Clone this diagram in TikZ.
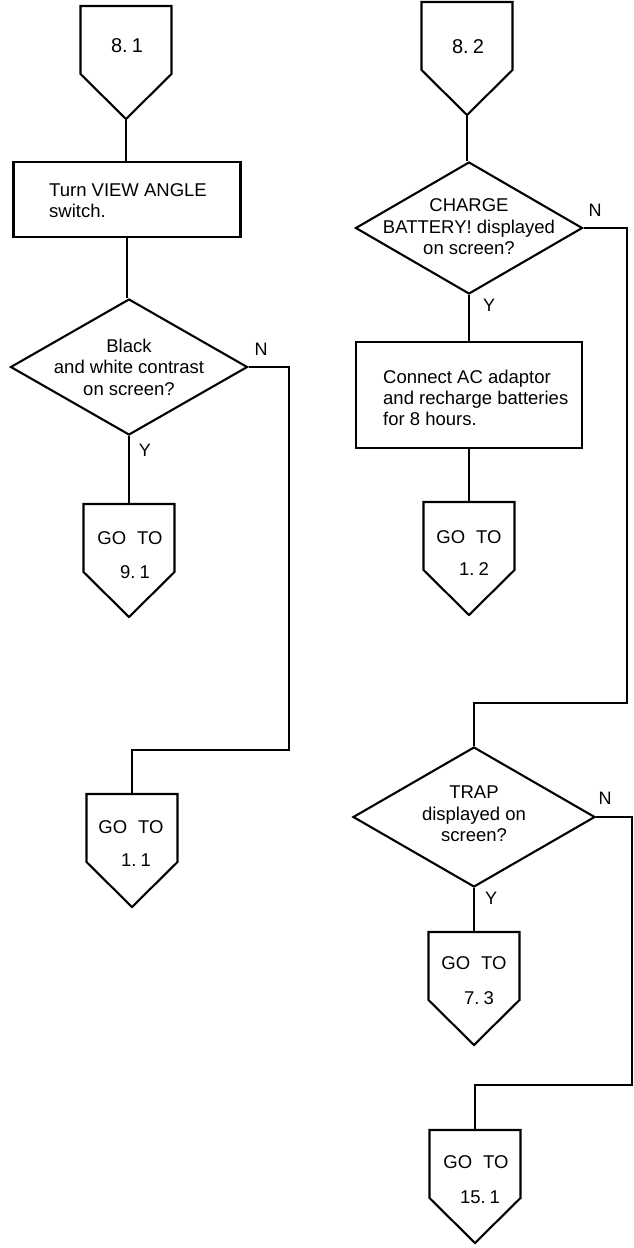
\documentclass[tikz,border=0pt]{standalone}
\usepackage{fontspec}
\setmainfont{Liberation Sans}
\usetikzlibrary{shapes.geometric}
\tikzset{
  x=1pt, y=-1pt,
  ln/.style={line width=1.9pt, line join=miter},
  dia/.style={shape=diamond, draw, line width=2.1pt, inner sep=0pt},
  box/.style={shape=rectangle, draw, line width=2.1pt, inner sep=0pt},
  txt/.style={font=\fontsize{18.5}{21.5}\selectfont, align=center, inner sep=0pt},
  ltxt/.style={font=\fontsize{18.5}{21}\selectfont, align=left, anchor=west, inner sep=0pt},
  gtxt/.style={font=\fontsize{18.5}{20}\selectfont, inner sep=0pt},
  htxt/.style={font=\fontsize{20}{22}\selectfont, inner sep=0pt},
  yn/.style={font=\fontsize{18}{20}\selectfont, inner sep=0pt},
  goto/.pic={
    \draw[line width=2.1pt, line join=miter] (-45.5,0) -- (45.5,0) -- (45.5,68) -- (0,113) -- (-45.5,68) -- cycle;
    \coordinate (-top) at (0,0);
    \coordinate (-tip) at (0,113);
  }
}
\newcommand{\gap}{\hspace{11pt}}
\newcommand{\dsp}{\hspace{4pt}}
\begin{document}
\begin{tikzpicture}
\useasboundingbox (0,0) rectangle (634,1248);
\fill[white] (0,0) rectangle (634,1248);

% ---------- left column ----------
\pic (p81) at (126,6) {goto};
\node[htxt] (t81) at (127,46) {8.\dsp1};

\node[box, minimum width=227pt, minimum height=75pt] (b1) at (127,199.5) {};
\node[ltxt] (tb1) at (49,201) {Turn VIEW ANGLE\\switch.};

\node[dia, minimum width=237pt, minimum height=136pt] (d1) at (129,367) {};
\node[txt] (td1) at (129,367) {Black\\and white contrast\\on screen?};
\node[yn] (n1) at (261,349) {N};
\node[yn] (y1) at (145,450) {Y};

\pic (g91) at (129,504) {goto};
\node[gtxt] (tg91a) at (130,538) {GO\gap TO};
\node[gtxt] (tg91b) at (135,572) {9.\dsp1};

\pic (g11) at (132,794) {goto};
\node[gtxt] (tg11a) at (131,827) {GO\gap TO};
\node[gtxt] (tg11b) at (136,860) {1.\dsp1};

\coordinate (c1) at (289,750);

\draw[ln] (p81-tip) -- (p81-tip |- b1.north);
\draw[ln] (b1.south) -- (b1.south |- d1.north);
\draw[ln] (d1.south) -- (d1.south |- g91-top);
\draw[ln] (d1.east) -| (c1) -| (g11-top);

% ---------- right column ----------
\pic (p82) at (467,2) {goto};
\node[htxt] (t82) at (468,47) {8.\dsp2};

\node[dia, minimum width=227pt, minimum height=132pt] (d2) at (469,228) {};
\node[txt] (td2) at (469,227) {CHARGE\\BATTERY! displayed\\on screen?};
\node[yn] (n2) at (595,210) {N};
\node[yn] (y2) at (489,305) {Y};

\node[box, minimum width=226pt, minimum height=106pt] (b2) at (469,395) {};
\node[ltxt] (tb2) at (383,398) {Connect AC adaptor\\and recharge batteries\\for 8 hours.};

\pic (g12) at (469,502) {goto};
\node[gtxt] (tg12a) at (469,537) {GO\gap TO};
\node[gtxt] (tg12b) at (474,569) {1.\dsp2};

\coordinate (c2) at (627,703);

\node[dia, minimum width=242pt, minimum height=140pt] (d3) at (474,817) {};
\node[txt] (td3) at (474,814) {TRAP\\displayed on\\screen?};
\node[yn] (n3) at (605,798) {N};
\node[yn] (y3) at (491,898) {Y};

\pic (g73) at (474,932) {goto};
\node[gtxt] (tg73a) at (474,963) {GO\gap TO};
\node[gtxt] (tg73b) at (479,998) {7.\dsp3};

\coordinate (c3) at (632,1085);

\pic (g151) at (475,1130) {goto};
\node[gtxt] (tg151a) at (476,1162) {GO\gap TO};
\node[gtxt] (tg151b) at (480,1197) {15.\dsp1};

\draw[ln] (p82-tip) -- (p82-tip |- d2.north);
\draw[ln] (d2.south) -- (d2.south |- b2.north);
\draw[ln] (b2.south) -- (b2.south |- g12-top);
\draw[ln] (d2.east) -| (c2) -| (d3.north);
\draw[ln] (d3.south) -- (d3.south |- g73-top);
\draw[ln] (d3.east) -| (c3) -| (g151-top);
\end{tikzpicture}
\end{document}
